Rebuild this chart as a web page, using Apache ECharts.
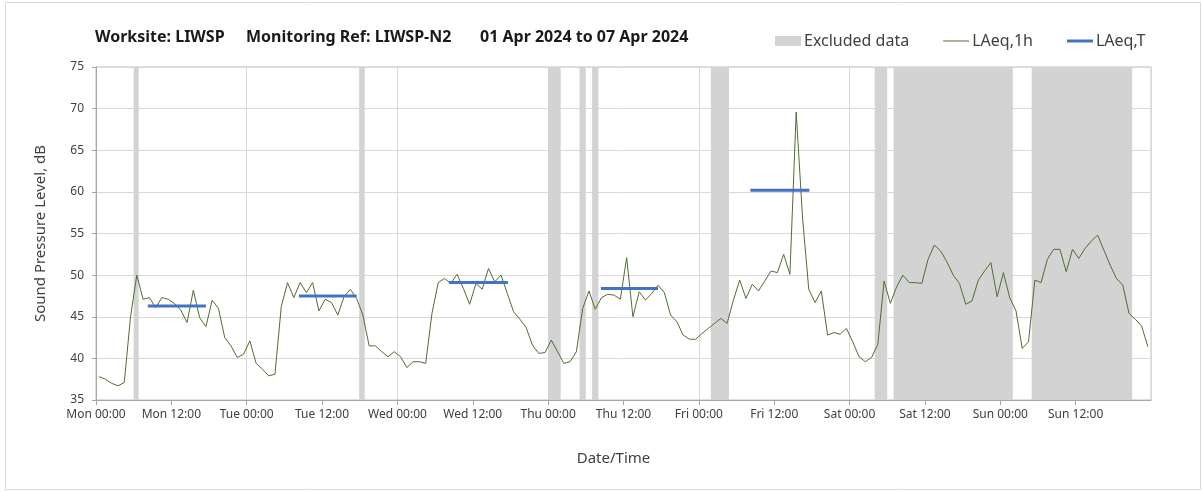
<!DOCTYPE html>
<html>
<head>
<meta charset="utf-8">
<title>LIWSP-N2</title>
<script src="https://cdn.jsdelivr.net/npm/echarts@6/dist/echarts.min.js"></script>
<style>
  html, body { margin: 0; padding: 0; background: #fff; }
  #main { width: 1203px; height: 492px; }
</style>
</head>
<body>
<div id="main"></div>
<script>
// hourly LAeq,1h, Mon 00:00 .. Sun 23:00 (plotted mid-hour)
var laeq1h = [
  37.8, 37.5, 37.0, 36.7, 37.1, 45.0, 50.0, 47.1, 47.3, 46.1,
  47.3, 47.1, 46.6, 45.8, 44.3, 48.2, 44.9, 43.8, 47.0, 46.0,
  42.5, 41.5, 40.1, 40.5, 42.1, 39.4, 38.7, 37.9, 38.1, 46.2,
  49.1, 47.3, 49.1, 47.9, 49.1, 45.7, 47.1, 46.7, 45.2, 47.4,
  48.3, 47.2, 45.2, 41.5, 41.5, 40.8, 40.2, 40.8, 40.2, 38.9,
  39.6, 39.6, 39.4, 45.4, 49.1, 49.6, 49.0, 50.1, 48.4, 46.5,
  49.0, 48.3, 50.8, 49.2, 50.0, 47.8, 45.6, 44.7, 43.7, 41.6,
  40.6, 40.7, 42.2, 40.8, 39.4, 39.6, 40.8, 46.0, 48.1, 45.9,
  47.3, 47.7, 47.6, 47.1, 52.1, 45.0, 48.0, 47.0, 47.8, 48.8,
  47.9, 45.2, 44.4, 42.8, 42.3, 42.3, 43.0, 43.6, 44.2, 44.8,
  44.2, 47.0, 49.4, 47.2, 48.9, 48.1, 49.3, 50.5, 50.3, 52.5,
  50.1, 69.6, 57.0, 48.3, 46.7, 48.1, 42.8, 43.1, 42.9, 43.6,
  42.0, 40.2, 39.6, 40.1, 41.7, 49.3, 46.6, 48.6, 50.0, 49.1,
  49.1, 49.0, 51.9, 53.6, 52.9, 51.6, 50.0, 49.0, 46.5, 46.9,
  49.4, 50.5, 51.5, 47.4, 50.3, 47.3, 45.7, 41.2, 42.0, 49.4,
  49.1, 51.9, 53.1, 53.1, 50.4, 53.1, 52.0, 53.2, 54.1, 54.8,
  53.0, 51.2, 49.6, 48.8, 45.4, 44.7, 43.9, 41.4
];

// LAeq,T per weekday period (hours from Mon 00:00)
var periodStart = [8.25, 32.3, 56.2, 80.4, 104.2];
var periodEnd   = [17.5, 41.5, 65.6, 89.5, 113.6];
var periodLevel = [46.3, 47.5, 49.1, 48.4, 60.2];

// excluded data bands (hours from Mon 00:00)
var excludedStart = [6.0, 41.9, 72.0, 77.0, 79.0, 97.9, 124.0, 127.0, 149.0];
var excludedEnd   = [6.8, 42.8, 74.0, 78.0, 80.0, 100.8, 126.0, 146.0, 165.0];

var dayNames = ['Mon', 'Tue', 'Wed', 'Thu', 'Fri', 'Sat', 'Sun', 'Mon'];
var yTicks = [35, 40, 45, 50, 55, 60, 65, 70, 75];

var font = 'Noto Sans';
var txt = '#404040';

var lineData = laeq1h.map(function (v, i) { return [i + 0.5, v]; });
var periodData = [];
periodStart.forEach(function (s, i) {
  periodData.push([s, periodLevel[i]]);
  periodData.push([periodEnd[i], periodLevel[i]]);
  periodData.push(['-', '-']);
});
var bandData = excludedStart.map(function (s, i) { return [s, excludedEnd[i]]; });

var chart = echarts.init(document.getElementById('main'));
chart.setOption({
  animation: false,
  backgroundColor: '#fff',
  textStyle: { fontFamily: font },
  graphic: [{
    type: 'rect', silent: true, z: -10,
    shape: { x: 5.5, y: 2.5, width: 1195, height: 487 },
    style: { fill: null, stroke: '#d9d9d9', lineWidth: 1 }
  }],
  title: [
    { text: 'Worksite: LIWSP', left: 95, top: 29 },
    { text: 'Monitoring Ref: LIWSP-N2', left: 246, top: 29 },
    { text: '01 Apr 2024 to 07 Apr 2024', left: 480, top: 29 }
  ].map(function (t) {
    t.padding = 0;
    t.textStyle = { fontFamily: font, fontWeight: 'bold', fontSize: 16, color: '#1a1a1a' };
    return t;
  }),
  legend: {
    left: 775, top: 33, padding: 0,
    itemWidth: 26, itemHeight: 10, itemGap: 34,
    textStyle: { fontFamily: font, fontSize: 16, color: txt, padding: [0, 0, 0, -2] },
    data: [
      { name: 'Excluded data', icon: 'rect' },
      { name: 'LAeq,1h', icon: 'path://M0,0h26v1h-26z' },
      { name: 'LAeq,T', icon: 'path://M0,0h26v3h-26z' }
    ]
  },
  grid: { left: 96, top: 67, right: 52, bottom: 92, show: true, borderColor: '#bfbfbf', borderWidth: 1 },
  xAxis: [{
    type: 'value', min: 0, max: 168, interval: 12,
    name: 'Date/Time', nameLocation: 'middle', nameGap: 51,
    nameTextStyle: { fontFamily: font, fontSize: 15, color: txt, padding: [0, 20, 0, 0] },
    axisLine: { lineStyle: { color: '#a6a6a6' } },
    axisTick: { length: 5, lineStyle: { color: '#a6a6a6' } },
    axisLabel: {
      fontFamily: font, fontSize: 12, color: txt, margin: 9, showMaxLabel: false,
      formatter: function (v) { return v >= 168 ? '' : dayNames[Math.floor(v / 24)] + (v % 24 === 0 ? ' 00:00' : ' 12:00'); }
    },
    splitLine: { show: false }
  }, {
    type: 'value', min: 0, max: 168, interval: 24, position: 'bottom',
    axisLine: { show: false }, axisTick: { show: false }, axisLabel: { show: false },
    splitLine: { show: true, lineStyle: { color: '#d9d9d9' } }
  }],
  yAxis: {
    type: 'value', min: yTicks[0], max: yTicks[yTicks.length - 1], interval: 5,
    name: 'Sound Pressure Level, dB', nameLocation: 'middle', nameGap: 48, nameRotate: 90,
    nameTextStyle: { fontFamily: font, fontSize: 15, color: txt },
    axisLine: { show: true, lineStyle: { color: '#a6a6a6' } },
    axisTick: { show: true, length: 4, lineStyle: { color: '#a6a6a6' } },
    axisLabel: { fontFamily: font, fontSize: 12, color: txt, margin: 12 },
    splitLine: { lineStyle: { color: '#d9d9d9' } }
  },
  series: [{
    name: 'Excluded data',
    type: 'custom',
    xAxisIndex: 0,
    encode: { x: [0, 1] },
    itemStyle: { color: '#d3d3d3' },
    renderItem: function (params, api) {
      var p0 = api.coord([api.value(0), 75]);
      var p1 = api.coord([api.value(1), 35]);
      return {
        type: 'rect',
        shape: { x: p0[0], y: p0[1], width: p1[0] - p0[0], height: p1[1] - p0[1] },
        style: { fill: '#d3d3d3' }
      };
    },
    data: bandData,
    z: 1
  }, {
    name: 'LAeq,1h',
    type: 'line',
    xAxisIndex: 0,
    symbol: 'none',
    color: '#4f6f2f',
    lineStyle: { width: 1, color: '#4f6f2f' },
    data: lineData,
    z: 3
  }, {
    name: 'LAeq,T',
    type: 'line',
    xAxisIndex: 0,
    symbol: 'none',
    connectNulls: false,
    color: '#4472c4',
    lineStyle: { width: 3, color: '#4472c4', cap: 'butt' },
    data: periodData,
    z: 4
  }]
});
</script>
</body>
</html>
